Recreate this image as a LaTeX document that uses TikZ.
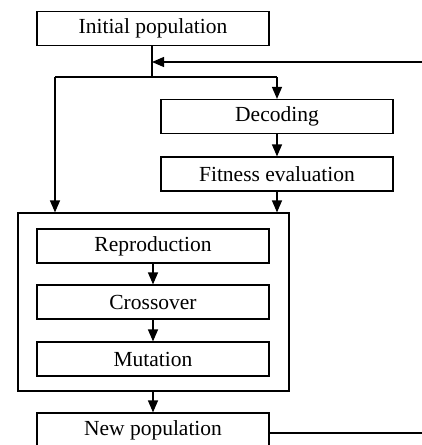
\documentclass[tikz,border=0pt]{standalone}
\usepackage{fontspec}
\setmainfont{Liberation Serif}
\usetikzlibrary{arrows.meta,calc}
\begin{document}
\begin{tikzpicture}[
  line width=1.2pt,
  box/.style={draw, rectangle, minimum width=232pt, minimum height=34pt, inner sep=0pt, font=\fontsize{21.5}{23}\selectfont},
  arr/.style={-{Triangle[length=12pt,width=10pt]}}]
\useasboundingbox (0pt,0pt) rectangle (422pt,-445pt);
\clip (0pt,0pt) rectangle (422pt,-445pt);
\node[box] (init) at (153pt,-28.5pt) {Initial population};
\node[box] (dec) at (277pt,-116.5pt) {Decoding};
\node[box] (fit) at (277pt,-174pt) {Fitness evaluation};
\node[draw, rectangle, minimum width=271pt, minimum height=178pt, inner sep=0pt] (big) at (153.5pt,-302pt) {};
\node[box] (rep) at (153pt,-246pt) {Reproduction};
\node[box] (cro) at (153pt,-302pt) {Crossover};
\node[box] (mut) at (153pt,-359pt) {Mutation};
\node[box, text depth=4pt] (newp) at (153pt,-430pt) {New population};
\coordinate (j1) at (152pt,-62pt);
\coordinate (j2) at (152pt,-77pt);
\coordinate (l) at (55pt,-77pt);
\coordinate (r) at (277pt,-77pt);
\coordinate (fbin) at (423pt,-62pt);
\coordinate (fbout) at (423pt,-433pt);
\draw (init.south -| j2) -- (j2);
\draw[arr] (fbin) -- (j1);
\draw (l) -- (r);
\draw[arr] (r) -- (dec.north);
\draw[arr] (dec.south) -- (fit.north);
\draw[arr] (fit.south) -- (fit.south |- big.north);
\draw[arr] (l) -- (l |- big.north);
\draw[arr] (rep.south) -- (cro.north);
\draw[arr] (cro.south) -- (mut.north);
\draw[arr] (big.south -| newp.north) -- (newp.north);
\draw (newp.east |- fbout) -- (fbout);
\end{tikzpicture}
\end{document}
